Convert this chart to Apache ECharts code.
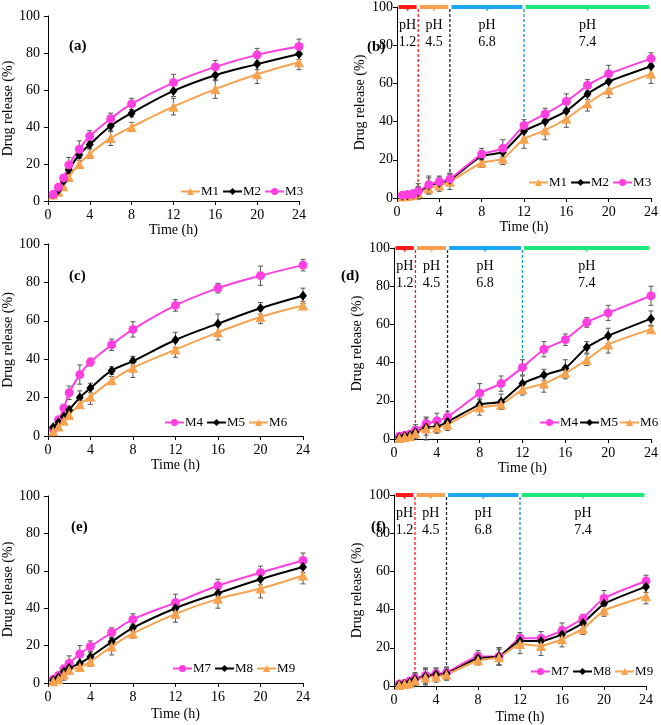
<!DOCTYPE html>
<html>
<head>
<meta charset="utf-8">
<script src="https://cdn.jsdelivr.net/npm/echarts@6/dist/echarts.min.js"></script>
<style>html,body{margin:0;padding:0;background:#fff;}#c{width:661px;height:725px;}</style>
</head>
<body>
<div id="c"></div>
<script>
// ---------- DATA ----------
const timesL = [0.5, 1, 1.5, 2, 3, 4, 6, 8, 12, 16, 20, 24];
const timesR = [0.5, 1, 1.5, 2, 3, 4, 5, 8, 10, 12, 14, 16, 18, 20, 24];
const xTicks = [0, 4, 8, 12, 16, 20, 24];
const yTicks = [0, 20, 40, 60, 80, 100];

// panel (a)
const a_M1 = [3.5, 5, 8, 13, 20, 25.5, 34, 40, 51, 60.5, 68.5, 75];
const a_M2 = [3.5, 6, 11, 17, 25, 30.5, 40.5, 47.5, 59.5, 68, 74, 79.5];
const a_M3 = [3.5, 7.5, 12.5, 19.5, 28, 35, 44.5, 52.5, 64, 72.5, 79, 83.5];
const a_M1_err = [1, 1, 2, 2, 2, 2.5, 4, 2.5, 4.5, 5, 5, 4];
const a_M2_err = [1, 1, 1.5, 2, 2, 2, 3, 2, 3, 3, 3, 3];
const a_M3_err = [1, 1, 1.5, 4, 4.5, 3, 3, 3, 4.5, 3.5, 3.5, 4];

// panel (b)
const b_M1 = [0.8, 1, 1.5, 2.5, 5, 6.5, 8.5, 18.5, 20.5, 31, 35.5, 41.5, 49.5, 56.5, 65];
const b_M2 = [1.2, 1.5, 2, 3, 6.5, 8, 9.5, 22, 24, 35, 40, 45.5, 54.5, 61, 69];
const b_M3 = [1.5, 1.8, 2, 3.5, 7, 8.5, 10, 23, 26, 38, 44, 50.5, 59, 65, 73];
const b_M1_err = [1, 1, 2, 3, 3, 3, 4, 2.5, 3, 5, 5, 4.5, 4, 4, 5];
const b_M2_err = [1, 1, 2, 3, 4, 3, 3, 2, 3, 4, 4, 4, 3, 4, 4];
const b_M3_err = [1, 1, 2, 4, 4.5, 3, 3, 3, 4.5, 3, 3, 4, 3, 4.5, 3];

// panel (c)
const c_M4 = [3.5, 8.5, 14.5, 22.5, 32, 38.5, 47.5, 55.5, 68, 77, 83.5, 89];
const c_M5 = [4.5, 7, 10, 13.5, 20, 25, 34, 39, 50, 58.5, 66.5, 73];
const c_M6 = [2.5, 5, 8, 11, 16.5, 20.5, 29, 35.5, 45, 54, 62, 68];
const c_M4_err = [1, 1.5, 2, 3.5, 5, 2, 3, 4, 3, 2.5, 5, 3];
const c_M5_err = [1, 1, 1.5, 2, 3.5, 2.5, 2, 2.5, 4, 5, 3, 4];
const c_M6_err = [1, 1, 2, 2, 2, 4, 2, 5, 4, 4, 3.5, 2];

// panel (d)
const d_M4 = [1.5, 2, 2.5, 4.5, 8, 9.5, 11.5, 24, 29, 37.5, 47, 52, 61, 66, 75];
const d_M5 = [0.8, 1.5, 2, 3.5, 6, 6.5, 9, 18, 19.5, 29, 33.5, 37, 48, 54, 63];
const d_M6 = [0.5, 1, 1.5, 3, 5.5, 6, 7.5, 16.5, 18, 26, 29, 34.5, 41.5, 49.5, 57.5];
const d_M4_err = [1, 1.5, 2, 3, 3, 4, 3, 5, 4, 4, 4, 3, 2.5, 4, 5];
const d_M5_err = [1, 1.5, 2, 3, 4, 3, 3, 3, 4, 4, 3, 4.5, 3, 4, 4];
const d_M6_err = [1, 1, 1.5, 3, 6, 3, 3, 4, 2.5, 3, 4.5, 3, 3, 4.5, 2];

// panel (e)
const e_M7 = [2, 4, 7.5, 10.5, 15.5, 19.5, 27, 34, 43, 52, 59, 65.5];
const e_M8 = [1.5, 3, 6, 8, 10.5, 14, 22, 29.5, 40, 48, 55.5, 62];
const e_M9 = [1, 2, 4.5, 7, 8.5, 11.5, 19.5, 26.5, 37, 45, 50.5, 57.5];
const e_M7_err = [1, 1, 2, 4, 4.5, 3, 2.5, 3, 4.5, 3.5, 3.5, 4];
const e_M8_err = [1, 1, 2, 2, 3, 3, 2, 2, 2, 2, 3, 3];
const e_M9_err = [1, 1, 3, 2, 1.5, 2.5, 4.5, 2.5, 4.5, 5, 5, 4.5];

// panel (f)
const f_M7 = [1, 1.5, 2.5, 4, 5.5, 6.5, 7, 15.5, 15.5, 25, 25, 29, 35.5, 46, 55];
const f_M8 = [0.8, 1.2, 2, 3.5, 5, 6, 6.5, 14.5, 15.5, 23.5, 23.5, 27, 33, 43, 52];
const f_M9 = [0.5, 1, 1.5, 3, 4.5, 5, 6, 13.5, 15, 22, 21, 24.5, 30, 39.5, 47];
const f_M7_err = [1, 1, 2, 3, 4, 3, 3, 3, 4.5, 3, 3.5, 4, 2, 4, 3];
const f_M8_err = [1, 1, 2, 3, 4, 3, 3, 3, 4.5, 3, 3, 4, 3, 3, 3];
const f_M9_err = [1, 1, 2, 3, 4, 3, 3, 2.5, 4, 5, 5, 4, 3, 3, 4];

// pH stages (start h, end h, pH)
const phStart = [0, 2, 5, 12];
const phEnd = [2, 5, 12, 24];
const phValues = ['1.2', '4.5', '6.8', '7.4'];
const phChange = [2, 5, 12];

// ---------- STYLE ----------
const FONT = 'Liberation Serif';
const C_MAG = '#ff3fe0', C_ORA = '#f7a24f', C_BLK = '#000000';
const phColors = ['#ff1a1a', '#f9a050', '#1aa8ee', '#1de87c'];
const dashColors = ['#ff1a1a', '#222222', '#1a8fd8'];
const STY = {
  orange: { color: C_ORA, symbol: 'triangle', size: 10 },
  black: { color: C_BLK, symbol: 'diamond', size: [8, 10] },
  magenta: { color: C_MAG, symbol: 'circle', size: 9 }
};

const grids = [
  { left: 42, top: 16, width: 257, height: 185 },
  { left: 397, top: 5, width: 254, height: 193 },
  { left: 42, top: 244, width: 261, height: 192 },
  { left: 394, top: 248, width: 259, height: 191 },
  { left: 43, top: 496, width: 260, height: 187 },
  { left: 394, top: 495, width: 252, height: 191 }
];

const panels = [
  { label: '(a)', times: timesL, ph: false, smooth: 0.4,
    series: [['M1', a_M1, a_M1_err, 'orange'], ['M2', a_M2, a_M2_err, 'black'], ['M3', a_M3, a_M3_err, 'magenta']],
    legend: { left: 180, top: 185 }, lab: { left: 64, top: 34 }, xName: 18, yMargin: 8, yName: 32 },
  { label: '(b)', times: timesR, ph: true, smooth: 0.15,
    series: [['M1', b_M1, b_M1_err, 'orange'], ['M2', b_M2, b_M2_err, 'black'], ['M3', b_M3, b_M3_err, 'magenta']],
    legend: { left: 528, top: 176 }, lab: { left: 362, top: 35 }, xName: 18, yMargin: 4, yName: 30 },
  { label: '(c)', times: timesL, ph: false, smooth: 0.4,
    series: [['M4', c_M4, c_M4_err, 'magenta'], ['M5', c_M5, c_M5_err, 'black'], ['M6', c_M6, c_M6_err, 'orange']],
    legend: { left: 164, top: 416 }, lab: { left: 64, top: 264 }, xName: 22, yMargin: 8, yName: 32 },
  { label: '(d)', times: timesR, ph: true, smooth: 0.15,
    series: [['M4', d_M4, d_M4_err, 'magenta'], ['M5', d_M5, d_M5_err, 'black'], ['M6', d_M6, d_M6_err, 'orange']],
    legend: { left: 539, top: 416, gap: 1 }, lab: { left: 336, top: 264 }, xName: 22, yMargin: 4, yName: 30 },
  { label: '(e)', times: timesL, ph: false, smooth: 0.4,
    series: [['M7', e_M7, e_M7_err, 'magenta'], ['M8', e_M8, e_M8_err, 'black'], ['M9', e_M9, e_M9_err, 'orange']],
    legend: { left: 172, top: 662 }, lab: { left: 66, top: 515 }, xName: 24, yMargin: 8, yName: 32 },
  { label: '(f)', times: timesR, ph: true, smooth: 0.15,
    series: [['M7', f_M7, f_M7_err, 'magenta'], ['M8', f_M8, f_M8_err, 'black'], ['M9', f_M9, f_M9_err, 'orange']],
    legend: { left: 530, top: 665 }, lab: { left: 366, top: 515 }, xName: 24, yMargin: 4, yName: 30 }
];

// ---------- BUILD ----------
const option = {
  animation: false,
  backgroundColor: '#fff',
  textStyle: { fontFamily: FONT },
  grid: grids.map(g => Object.assign({ containLabel: false }, g)),
  xAxis: [], yAxis: [], series: [], legend: [], title: []
};

panels.forEach((p, gi) => {
  option.xAxis.push({
    type: 'value', gridIndex: gi, min: 0, max: 24, interval: 4,
    name: 'Time (h)', nameLocation: 'middle', nameGap: p.xName,
    nameTextStyle: { fontFamily: FONT, fontSize: 14, color: '#000' },
    axisLine: { lineStyle: { color: '#000', width: 1 } },
    axisTick: { show: true, inside: false, length: 4, lineStyle: { color: '#000' } },
    axisLabel: { fontFamily: FONT, fontSize: 14, color: '#000', margin: 7 },
    splitLine: { show: false }
  });
  option.yAxis.push({
    type: 'value', gridIndex: gi, min: 0, max: 100, interval: 20,
    name: 'Drug release (%)', nameLocation: 'middle', nameGap: p.yName, nameRotate: 90,
    nameTextStyle: { fontFamily: FONT, fontSize: 14, color: '#000' },
    axisLine: { show: true, lineStyle: { color: '#000', width: 1 } },
    axisTick: { show: true, inside: false, length: 4, lineStyle: { color: '#000' } },
    axisLabel: { fontFamily: FONT, fontSize: 14, color: '#000', margin: p.yMargin },
    splitLine: { show: false }
  });
  option.title.push({
    text: p.label, left: p.lab.left, top: p.lab.top,
    textStyle: { fontFamily: FONT, fontSize: 15, fontWeight: 'bold', color: '#000' }
  });

  // pH decorations
  if (p.ph) {
    phStart.forEach((s, i) => {
      option.series.push({
        type: 'line', xAxisIndex: gi, yAxisIndex: gi, silent: true, z: 4,
        data: [[s + 0.15, 100], [phEnd[i] - 0.15, 100]], symbol: 'none',
        lineStyle: { color: phColors[i], width: 4 }, clip: false
      });
      option.series.push({
        type: 'scatter', xAxisIndex: gi, yAxisIndex: gi, silent: true, z: 4,
        data: [[(s + phEnd[i]) / 2, 99]], symbol: 'triangle', symbolRotate: 180, symbolSize: [6, 5],
        itemStyle: { color: phColors[i] }, clip: false
      });
      option.series.push({
        type: 'scatter', xAxisIndex: gi, yAxisIndex: gi, silent: true, z: 5,
        data: [[(s + phEnd[i]) / 2, 86]], symbolSize: 1, itemStyle: { opacity: 0 },
        label: { show: true, position: 'inside', formatter: 'pH\n' + phValues[i],
          fontFamily: FONT, fontSize: 14, color: '#000', opacity: 1, textBorderWidth: 0, lineHeight: 17 }
      });
    });
    phChange.forEach((x, i) => {
      const idx = p.times.indexOf(x);
      const top = Math.max.apply(null, p.series.map(s => s[1][idx]));
      option.series.push({
        type: 'line', xAxisIndex: gi, yAxisIndex: gi, silent: true, z: 1,
        data: [[x, 99], [x, top]], symbol: 'none',
        lineStyle: { color: dashColors[i], width: 1.3, type: [3, 2] }
      });
    });
  }

  // error bars
  p.series.forEach(s => {
    const vals = s[1], errs = s[2];
    option.series.push({
      type: 'custom', xAxisIndex: gi, yAxisIndex: gi, silent: true, z: 2,
      data: p.times.map((t, i) => [t, vals[i], errs[i]]),
      renderItem: function (params, api) {
        const x = api.value(0), y = api.value(1), e = api.value(2);
        const hi = api.coord([x, y + e]), lo = api.coord([x, y - e]);
        const w = 2.5;
        const st = { stroke: '#555', lineWidth: 1 };
        return { type: 'group', children: [
          { type: 'line', shape: { x1: hi[0], y1: hi[1], x2: lo[0], y2: lo[1] }, style: st },
          { type: 'line', shape: { x1: hi[0] - w, y1: hi[1], x2: hi[0] + w, y2: hi[1] }, style: st },
          { type: 'line', shape: { x1: lo[0] - w, y1: lo[1], x2: lo[0] + w, y2: lo[1] }, style: st }
        ] };
      }
    });
  });

  // data lines
  p.series.forEach(s => {
    const st = STY[s[3]];
    option.series.push({
      name: s[0], type: 'line', xAxisIndex: gi, yAxisIndex: gi, z: 3,
      data: p.times.map((t, i) => [t, s[1][i]]),
      smooth: p.smooth, symbol: st.symbol, symbolSize: st.size, showSymbol: true,
      itemStyle: { color: st.color, borderWidth: 0 },
      lineStyle: { color: st.color, width: 2 }
    });
  });

  option.legend.push({
    data: p.series.map(s => s[0]), left: p.legend.left, top: p.legend.top,
    width: 130, orient: 'horizontal', itemWidth: 19, itemHeight: 9,
    itemGap: p.legend.gap !== undefined ? p.legend.gap : 3,
    textStyle: { fontFamily: FONT, fontSize: 13, color: '#000', padding: [0, 0, 0, -4] },
    selectedMode: false, padding: 0
  });
});

const chart = echarts.init(document.getElementById('c'), null, { renderer: 'canvas' });
chart.setOption(option);
</script>
</body>
</html>
